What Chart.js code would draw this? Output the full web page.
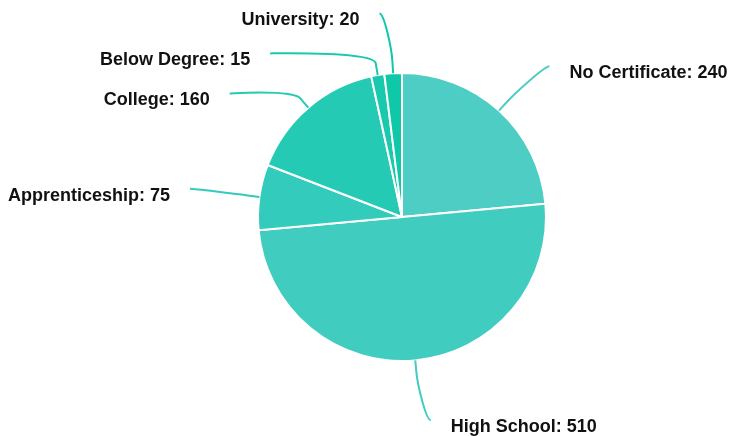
<!DOCTYPE html>
<html>
<head>
<meta charset="utf-8">
<script src="https://cdn.jsdelivr.net/npm/chart.js@4"></script>
<style>
  html, body { margin: 0; padding: 0; background: #fff; }
  #wrap { width: 732px; height: 436px; }
</style>
</head>
<body>
<div id="wrap"><canvas id="chart"></canvas></div>
<script>
const categories = ['No Certificate', 'High School', 'Apprenticeship', 'College', 'Below Degree', 'University'];
const counts = [240, 510, 75, 160, 15, 20];
const sliceColors = ['#4ecdc4', '#41ccc0', '#33cbbb', '#24cab3', '#19c9ae', '#0ec8a8'];

// labels outside the pie, joined by curved leader lines
const leaderLabels = {
  id: 'leaderLabels',
  afterDatasetsDraw(chart) {
    const ctx = chart.ctx;
    const meta = chart.getDatasetMeta(0);
    const labelDist = 60, gap = 40;

    const items = meta.data.map((arc, i) => {
      const p = arc.getProps(['x', 'y', 'startAngle', 'endAngle', 'outerRadius'], true);
      const mid = (p.startAngle + p.endAngle) / 2;
      const R = p.outerRadius + labelDist;
      return {
        i, cx: p.x, cy: p.y, r: p.outerRadius, R,
        cos: Math.cos(mid), sin: Math.sin(mid),
        left: Math.cos(mid) < 0,
        y: p.y + Math.sin(mid) * R
      };
    });

    [true, false].forEach(side => {
      const group = items.filter(it => it.left === side).sort((a, b) => a.y - b.y);
      if (!group.length) return;
      const top = group[0].cy - group[0].R;
      const bottom = group[0].cy + group[0].R;
      let prev = -Infinity;
      group.forEach(it => {
        it.y = Math.max(it.y, prev + gap, top);
        prev = it.y;
      });
      let next = Infinity;
      for (let k = group.length - 1; k >= 0; k--) {
        const it = group[k];
        it.y = Math.min(it.y, next - gap, bottom);
        next = it.y;
      }
    });

    ctx.save();
    items.forEach(it => {
      const dy = it.y - it.cy;
      const dx = Math.sqrt(Math.max(it.R * it.R - dy * dy, 0)) + 10;
      const endX = it.cx + (it.left ? -dx : dx);
      const endY = it.y;
      const touch = { x: it.cx + it.cos * it.r, y: it.cy + it.sin * it.r };
      const brk = { x: it.cx + it.cos * (it.r + 12), y: it.cy + it.sin * (it.r + 12) };

      ctx.strokeStyle = sliceColors[it.i];
      ctx.lineWidth = 2;
      ctx.beginPath();
      ctx.moveTo(endX, endY);
      ctx.bezierCurveTo(endX + (it.left ? 5 : -5), endY,
        2 * brk.x - touch.x, 2 * brk.y - touch.y, brk.x, brk.y);
      ctx.lineTo(touch.x, touch.y);
      ctx.stroke();

      ctx.fillStyle = '#111';
      ctx.font = 'bold 18px "Liberation Sans", Arial, sans-serif';
      ctx.textBaseline = 'middle';
      ctx.textAlign = it.left ? 'right' : 'left';
      ctx.fillText(categories[it.i] + ': ' + counts[it.i], endX + (it.left ? -20 : 20), endY + 7);
    });
    ctx.restore();
  }
};

new Chart(document.getElementById('chart'), {
  type: 'pie',
  data: {
    labels: categories,
    datasets: [{
      data: counts,
      backgroundColor: sliceColors,
      borderColor: '#ffffff',
      borderWidth: 2
    }]
  },
  options: {
    responsive: true,
    maintainAspectRatio: false,
    animation: false,
    layout: { padding: { top: 72, bottom: 74, left: 72, right: 0 } },
    plugins: {
      legend: { display: false },
      tooltip: { enabled: false }
    }
  },
  plugins: [leaderLabels]
});
</script>
</body>
</html>
